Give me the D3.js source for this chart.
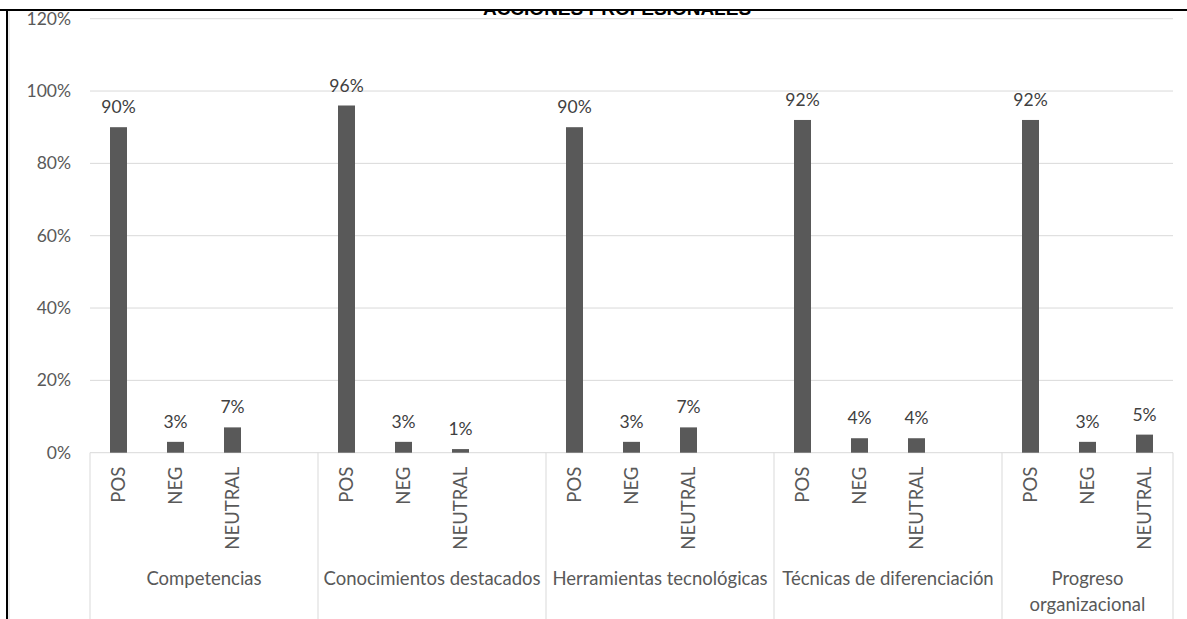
<!DOCTYPE html>
<html>
<head>
<meta charset="utf-8">
<script src="https://cdn.jsdelivr.net/npm/d3@7"></script>
<style>
  html, body { margin: 0; padding: 0; background: #fff; }
  svg { display: block; font-family: Lato, "Open Sans", sans-serif; }
</style>
</head>
<body>
<svg id="chart" width="1187" height="619"></svg>
<script>
// Chart data
const title = "ACCIONES PROFESIONALES";
const groups = ["Competencias", "Conocimientos destacados", "Herramientas tecnológicas", "Técnicas de diferenciación", "Progreso organizacional"];
const groupLines = [["Competencias"], ["Conocimientos destacados"], ["Herramientas tecnológicas"], ["Técnicas de diferenciación"], ["Progreso", "organizacional"]];
const sentiments = ["POS", "NEG", "NEUTRAL"];
const posValues = [0.90, 0.96, 0.90, 0.92, 0.92];
const negValues = [0.03, 0.03, 0.03, 0.04, 0.03];
const neutralValues = [0.07, 0.01, 0.07, 0.04, 0.05];
const yTicks = [0, 0.2, 0.4, 0.6, 0.8, 1.0, 1.2];

const seriesValues = { POS: posValues, NEG: negValues, NEUTRAL: neutralValues };

// Each group holds its three sentiments plus one empty slot (except the last group)
const slots = [];
groups.forEach((g, gi) => {
  sentiments.forEach(s => slots.push(gi + "|" + s));
  if (gi < groups.length - 1) slots.push(gi + "|_");
});

const rows = [];
groups.forEach((g, gi) => sentiments.forEach(s => rows.push({ gi, s, v: seriesValues[s][gi] })));

const svg = d3.select("#chart");
const plotLeft = 90, plotRight = 1173, plotTop = 18.7, plotBottom = 452.7;

const x = d3.scaleBand().domain(slots).range([plotLeft, plotRight]).padding(0);
const y = d3.scaleLinear().domain([0, 1.2]).range([plotBottom, plotTop]);
const barW = 17;
const pct = d3.format(".0%");

// Horizontal gridlines
svg.append("g").selectAll("line").data(yTicks).join("line")
  .attr("x1", plotLeft).attr("x2", plotRight)
  .attr("y1", d => y(d)).attr("y2", d => y(d))
  .attr("stroke", "#d9d9d9").attr("stroke-width", 1);

// Value axis labels
const yAxis = svg.append("g").attr("transform", `translate(${plotLeft},0)`)
  .call(d3.axisLeft(y).tickValues(yTicks).tickFormat(pct).tickSize(0).tickPadding(19));
yAxis.select(".domain").remove();
yAxis.selectAll("text").attr("fill", "#595959").attr("font-size", 17.5).attr("font-family", "Lato, sans-serif");

// Group separators below the baseline
const boundaries = groups.map((g, gi) => x(gi + "|POS")).concat([plotRight]);
svg.append("g").selectAll("line").data(boundaries).join("line")
  .attr("x1", d => d).attr("x2", d => d)
  .attr("y1", plotBottom).attr("y2", 619)
  .attr("stroke", "#d9d9d9").attr("stroke-width", 1);

// Bars
svg.append("g").selectAll("rect").data(rows).join("rect")
  .attr("x", d => x(d.gi + "|" + d.s) + x.bandwidth() / 2 - barW / 2)
  .attr("width", barW)
  .attr("y", d => y(d.v))
  .attr("height", d => y(0) - y(d.v))
  .attr("fill", "#595959");

// Data labels
svg.append("g").selectAll("text").data(rows).join("text")
  .attr("x", d => x(d.gi + "|" + d.s) + x.bandwidth() / 2)
  .attr("y", d => y(d.v) - 14)
  .attr("text-anchor", "middle")
  .attr("fill", "#404040").attr("font-size", 17.5)
  .text(d => pct(d.v));

// Rotated sentiment labels
svg.append("g").selectAll("text").data(rows).join("text")
  .attr("transform", d => `translate(${x(d.gi + "|" + d.s) + x.bandwidth() / 2 + 6.5},${plotBottom + 14}) rotate(-90)`)
  .attr("text-anchor", "end")
  .attr("fill", "#595959").attr("font-size", 18.5)
  .text(d => d.s);

// Group labels
const gLab = svg.append("g").selectAll("text").data(groupLines).join("text")
  .attr("x", (d, i) => (boundaries[i] + boundaries[i + 1]) / 2)
  .attr("y", 584.5)
  .attr("text-anchor", "middle")
  .attr("fill", "#595959").attr("font-size", 18.5);
gLab.selectAll("tspan").data(d => d).join("tspan")
  .attr("x", function () { return d3.select(this.parentNode).attr("x"); })
  .attr("dy", (d, i) => i === 0 ? 0 : 26)
  .text(d => d);

// Title, mostly hidden above the frame
svg.append("defs").append("clipPath").attr("id", "titleClip")
  .append("rect").attr("x", 0).attr("y", 10.5).attr("width", 1187).attr("height", 6);
svg.append("text")
  .attr("clip-path", "url(#titleClip)")
  .attr("x", 617).attr("y", 14.5)
  .attr("text-anchor", "middle")
  .attr("font-weight", "bold").attr("font-size", 19).attr("fill", "#000")
  .attr("font-family", "'Liberation Sans', Arial, sans-serif")
  .text(title);

// Frame
svg.append("line").attr("x1", 9).attr("x2", 9).attr("y1", 11).attr("y2", 619).attr("stroke", "#d9d9d9").attr("stroke-width", 1);
svg.append("line").attr("x1", 0).attr("x2", 1187).attr("y1", 10).attr("y2", 10).attr("stroke", "#000").attr("stroke-width", 2);
svg.append("line").attr("x1", 7).attr("x2", 7).attr("y1", 9).attr("y2", 619).attr("stroke", "#000").attr("stroke-width", 2);
</script>
</body>
</html>
